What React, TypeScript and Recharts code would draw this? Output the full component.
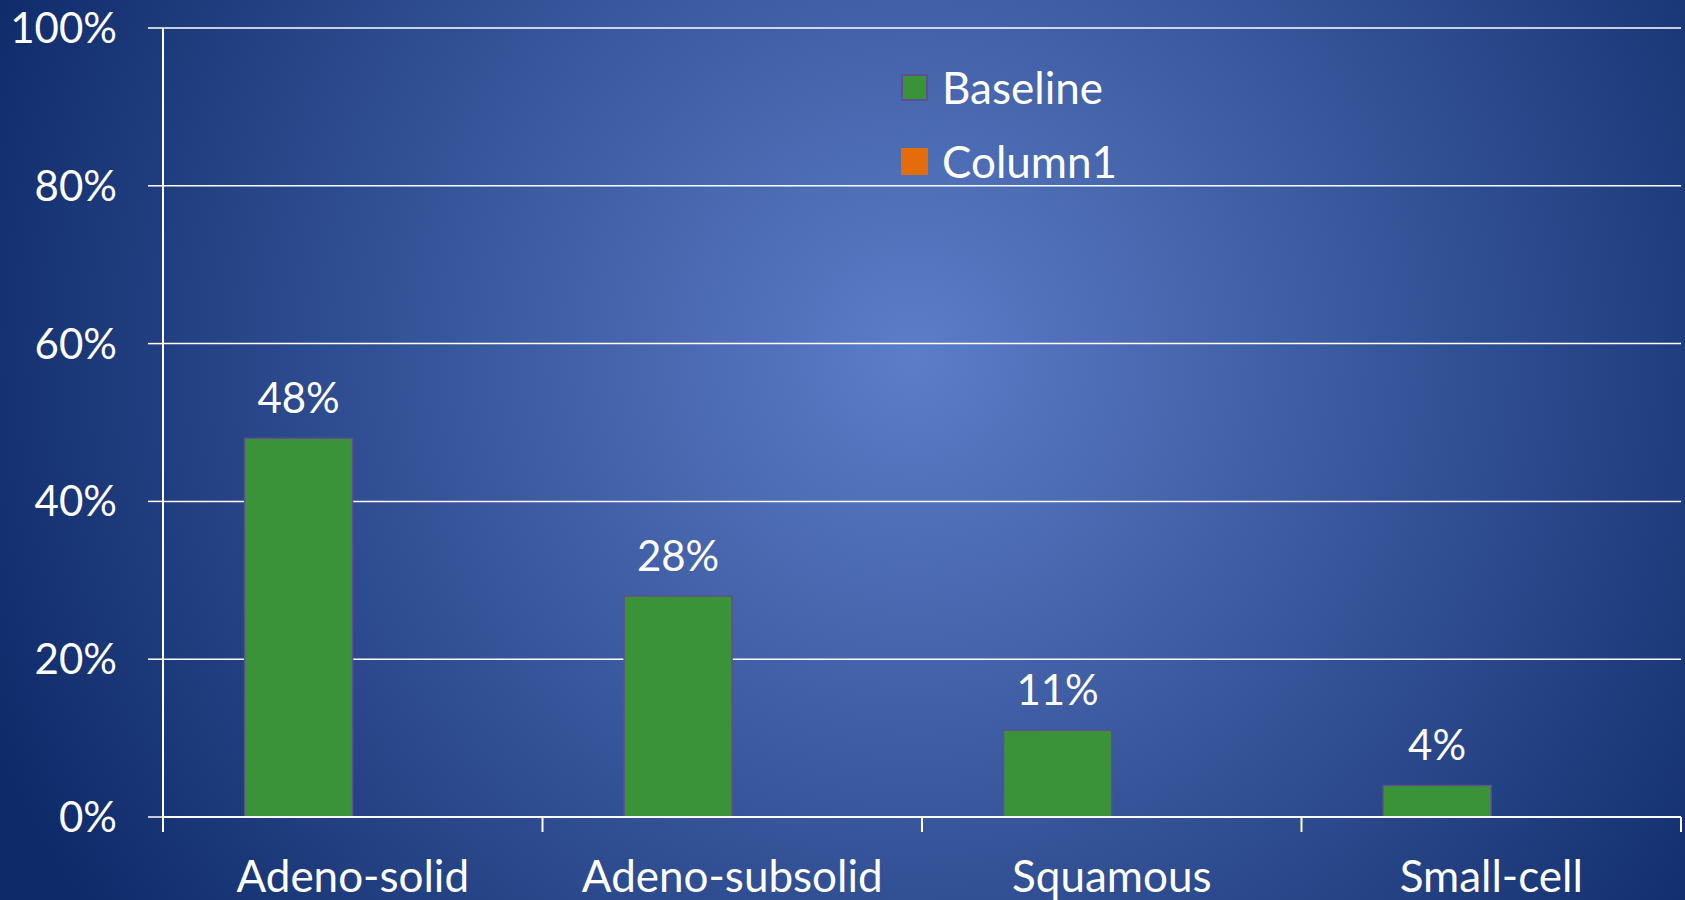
import React from 'react';
import { BarChart, Bar, XAxis, YAxis, CartesianGrid, Legend, LabelList } from 'recharts';

const categories = ['Adeno-solid', 'Adeno-subsolid', 'Squamous', 'Small-cell'];
const baseline = [0.48, 0.28, 0.11, 0.04];
const column1: (number | null)[] = [null, null, null, null];
const yTicks = [0, 0.2, 0.4, 0.6, 0.8, 1];

const seriesInfo = [
    { key: 'baseline', name: 'Baseline', fill: '#3a9339', stroke: '#5e5090' },
    { key: 'column1', name: 'Column1', fill: '#e46c0a', stroke: 'none' },
];

const data = categories.map((c, i) => ({ name: c, baseline: baseline[i], column1: column1[i] }));

const FONT = 'Lato, "Open Sans", sans-serif';
const pct = (v: any) => (v == null ? '' : `${Math.round(Number(v) * 100)}%`);

// tick lines sit on the category edges, labels in the middle
const CategoryTick = (props: any) => {
    const { x, y, payload, index } = props;
    const half = payload?.offset ?? 0;
    const last = index === categories.length - 1;
    return (
        <g>
            <line x1={x - half} x2={x - half} y1={y} y2={y + 15} stroke="#fff" strokeWidth={2} />
            {last && <line x1={x + half} x2={x + half} y1={y} y2={y + 15} stroke="#fff" strokeWidth={2} />}
            <text x={x} y={y + 75} textAnchor="middle" fill="#fff" fontSize={44} fontFamily={FONT}>
                {payload.value}
            </text>
        </g>
    );
};

const LegendBox = () => (
    <div style={{ fontFamily: FONT, color: '#fff', fontSize: 44 }}>
        {seriesInfo.map((s) => (
            <div key={s.key} style={{ display: 'flex', alignItems: 'center', height: 74 }}>
                <div
                    style={{
                        width: 27,
                        height: 27,
                        boxSizing: 'border-box',
                        background: s.fill,
                        border: s.stroke === 'none' ? 'none' : `2px solid ${s.stroke}`,
                        marginRight: 14,
                    }}
                />
                <span>{s.name}</span>
            </div>
        ))}
    </div>
);

export default function App() {
    return (
        <div
            style={{
                position: 'absolute',
                left: 0,
                top: 0,
                width: 1685,
                height: 900,
                background: 'radial-gradient(circle 1000px at 913px 355px, #5c7dc8 0%, #0e2a69 100%)',
            }}
        >
            <BarChart
                width={1685}
                height={900}
                data={data}
                margin={{ top: 28, right: 4, bottom: 0, left: 0 }}
                barCategoryGap="21.5%"
                barGap={0}
            >
                <CartesianGrid vertical={false} stroke="#fff" strokeWidth={1.5} />
                <XAxis
                    dataKey="name"
                    height={83}
                    axisLine={{ stroke: '#fff', strokeWidth: 2 }}
                    tickLine={false}
                    tickSize={0}
                    tickMargin={0}
                    tick={<CategoryTick />}
                    interval={0}
                />
                <YAxis
                    width={163}
                    domain={[0, 1]}
                    ticks={yTicks}
                    tickFormatter={pct}
                    axisLine={{ stroke: '#fff', strokeWidth: 2 }}
                    tickLine={{ stroke: '#fff', strokeWidth: 1.5 }}
                    tickSize={15}
                    tickMargin={31}
                    tick={{ fill: '#fff', fontSize: 42, fontFamily: FONT }}
                />
                <Legend
                    layout="vertical"
                    align="center"
                    verticalAlign="middle"
                    content={<LegendBox />}
                    wrapperStyle={{ top: 50, left: 901, width: 'auto' }}
                />
                <Bar dataKey="baseline" name="Baseline" fill={seriesInfo[0].fill} stroke={seriesInfo[0].stroke} strokeWidth={1.5} isAnimationActive={false}>
                    <LabelList dataKey="baseline" position="top" offset={25} formatter={pct} fill="#fff" fontSize={42} fontFamily={FONT} />
                </Bar>
                <Bar dataKey="column1" name="Column1" fill={seriesInfo[1].fill} isAnimationActive={false} />
            </BarChart>
        </div>
    );
}
